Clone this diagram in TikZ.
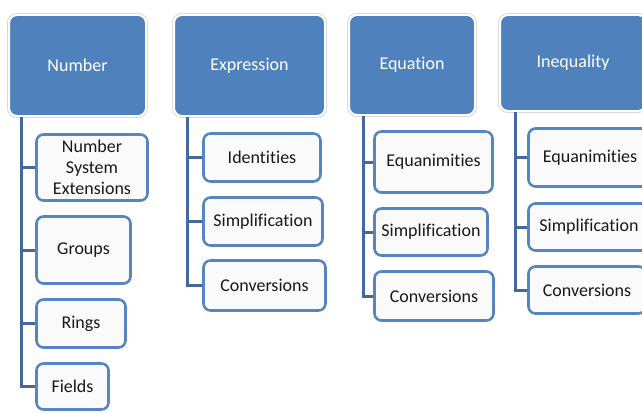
\documentclass[tikz,border=0pt]{standalone}
\usepackage{fontspec}
\setmainfont{Carlito}[Ligatures={NoCommon}]
\definecolor{hdr}{HTML}{4F81BD}
\definecolor{conncol}{HTML}{41699B}
\definecolor{childline}{HTML}{5686C0}
\begin{document}
\begin{tikzpicture}[x=1pt,y=-1pt,
  hdrbox/.style={rectangle, rounded corners=8pt, fill=hdr, draw=white, line width=2pt,
    preaction={draw=black!15, line width=4pt},
    text=white, font=\fontsize{18}{21}\selectfont, inner sep=0pt},
  childbox/.style={rectangle, rounded corners=7pt, fill=white!98!black, draw=childline, line width=2.6pt,
    text=black!90, font=\fontsize{18}{21}\selectfont, align=center, inner sep=0pt},
  conn/.style={draw=conncol, line width=3pt}]
\useasboundingbox (0,0) rectangle (642,412);
\clip (0,0) rectangle (642,412);
\fill[white] (0,0) rectangle (642,412);

% headers
\node[hdrbox, minimum width=137pt, minimum height=101pt] (num) at (77.5,65.5) {Number};
\node[hdrbox, minimum width=151pt, minimum height=101pt] (expr) at (249.5,65.5) {Expression};
\node[hdrbox, minimum width=126pt, minimum height=100pt] (eqn) at (412,65) {Equation};
\node[hdrbox, minimum width=146pt, minimum height=96pt] (ineq) at (573,63) {Inequality};

% Number children
\node[childbox, minimum width=111pt, minimum height=66pt] (nse) at (92,167.5) {Number\\System\\Extensions};
\node[childbox, minimum width=94pt, minimum height=67pt] (groups) at (83.5,250) {Groups};
\node[childbox, minimum width=89pt, minimum height=48pt] (rings) at (81,323.5) {Rings};
\node[childbox, minimum width=72pt, minimum height=46pt] (fields) at (72.5,386.5) {Fields};

% Expression children
\node[childbox, minimum width=117pt, minimum height=48pt] (ident) at (262,157.5) {Identities};
\node[childbox, minimum width=119pt, minimum height=48pt] (exsimp) at (263,221.5) {Simplification};
\node[childbox, minimum width=122pt, minimum height=50pt] (exconv) at (264.5,285.5) {Conversions};

% Equation children
\node[childbox, minimum width=118pt, minimum height=61pt] (eqequ) at (433.5,162) {Equanimities};
\node[childbox, minimum width=113pt, minimum height=47pt] (eqsimp) at (431,232) {Simplification};
\node[childbox, minimum width=119pt, minimum height=49pt] (eqconv) at (434,296) {Conversions};

% Inequality children
\node[childbox, minimum width=123pt, minimum height=58pt] (inequ) at (590,157.5) {Equanimities};
\node[childbox, minimum width=121pt, minimum height=47pt] (insimp) at (589,227) {Simplification};
\node[childbox, minimum width=117pt, minimum height=47pt] (inconv) at (587,290) {Conversions};

% connectors
\draw[conn] ([xshift=13pt]num.south west) |- (nse.west);
\draw[conn] ([xshift=13pt]num.south west) |- (groups.west);
\draw[conn] ([xshift=13pt]num.south west) |- (rings.west);
\draw[conn] ([xshift=13pt]num.south west) |- (fields.west);

\draw[conn] ([xshift=14pt]expr.south west) |- (ident.west);
\draw[conn] ([xshift=14pt]expr.south west) |- (exsimp.west);
\draw[conn] ([xshift=14pt]expr.south west) |- (exconv.west);

\draw[conn] ([xshift=15pt]eqn.south west) |- (eqequ.west);
\draw[conn] ([xshift=15pt]eqn.south west) |- (eqsimp.west);
\draw[conn] ([xshift=15pt]eqn.south west) |- (eqconv.west);

\draw[conn] ([xshift=16pt]ineq.south west) |- (inequ.west);
\draw[conn] ([xshift=16pt]ineq.south west) |- (insimp.west);
\draw[conn] ([xshift=16pt]ineq.south west) |- (inconv.west);
\end{tikzpicture}
\end{document}
